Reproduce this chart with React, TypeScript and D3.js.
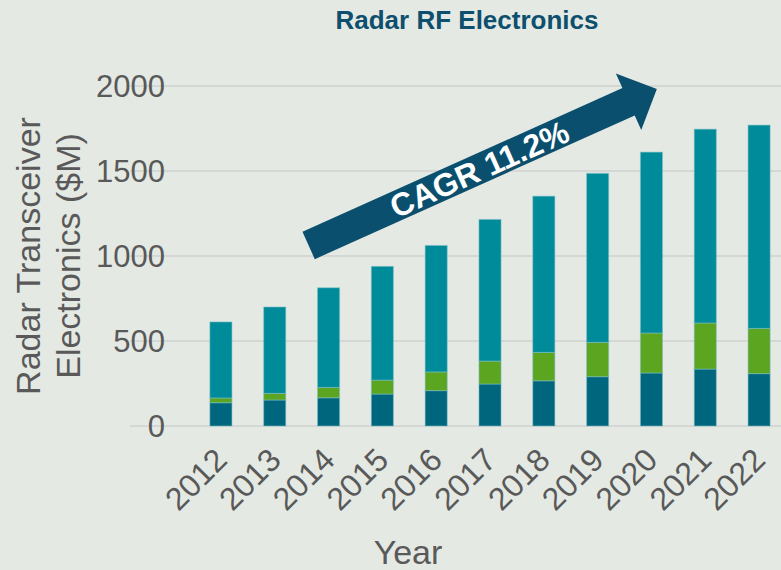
import React from "react";
import * as d3 from "d3";

const years = ["2012","2013","2014","2015","2016","2017","2018","2019","2020","2021","2022"];
const bottomSeries = [137,153,166,188,208,247,266,290,312,335,308];
const middleSeries = [28,39,61,82,110,135,167,202,235,271,266];
const topSeries = [447,508,586,669,744,833,919,994,1064,1140,1196];
const yTicks = [0,500,1000,1500,2000];
const seriesColors = ["#00667e","#5ba521","#008b9b"];
const cagrLabel = "CAGR 11.2%";
// arrow annotation in data space: index offset along categories, value on y
const arrowStart = { idx: 1.63, value: 1062 };
const arrowEnd = { idx: 8.1, value: 1982 };

const W = 781, H = 570;
const FONT = "'Liberation Sans', Arial, Helvetica, sans-serif";

export default function App() {
  const x = d3.scaleBand<string>().domain(years).range([194, 786]).paddingInner(0.59).paddingOuter(0.295);
  const y = d3.scaleLinear().domain([0, 2000]).range([426, 86]);
  const step = x.step();
  const bw = x.bandwidth();
  const cx0 = (x(years[0]) as number) + bw / 2;

  const rows = years.map((yr, i) => ({ yr, a: bottomSeries[i], b: middleSeries[i], c: topSeries[i] }));
  const stack = d3.stack<any>().keys(["a","b","c"])(rows);

  // arrow geometry from scales
  const sx = cx0 + arrowStart.idx * step, sy = y(arrowStart.value);
  const ex = cx0 + arrowEnd.idx * step, ey = y(arrowEnd.value);
  const ang = Math.atan2(ey - sy, ex - sx);
  const len = Math.hypot(ex - sx, ey - sy);
  const shaftHalf = 15, headHalf = 31, headLen = 31;
  const pts: [number, number][] = [
    [0, -shaftHalf], [len - headLen, -shaftHalf], [len - headLen, -headHalf], [len, 0],
    [len - headLen, headHalf], [len - headLen, shaftHalf], [0, shaftHalf],
  ];
  const deg = (ang * 180) / Math.PI;
  const tpos = len * 0.49;

  return (
    <svg width={W} height={H} style={{ position: "absolute", left: 0, top: 0 }} fontFamily={FONT}>
      <rect x={0} y={0} width={W} height={H} fill="#e4e9e4" />
      <text x={467} y={29} textAnchor="middle" fontSize={26} fontWeight="bold" fill="#0e4f6d">Radar RF Electronics</text>

      {yTicks.map((t) => (
        <g key={t}>
          <line x1={130} x2={W} y1={y(t)} y2={y(t)} stroke="#d5d7d5" strokeWidth={2} />
          <text x={165} y={y(t)} dy="0.36em" textAnchor="end" fontSize={31} fill="#595959">{t}</text>
        </g>
      ))}

      {stack.map((s, si) => (
        <g key={si} fill={seriesColors[si]}>
          {s.map((d: any, i: number) => (
            <rect key={i} x={x(years[i])} y={y(d[1])} width={bw} height={y(d[0]) - y(d[1])}
              stroke="#7cc0c6" strokeOpacity={0.55} strokeWidth={1} />
          ))}
        </g>
      ))}

      {years.map((yr) => (
        <text key={yr} transform={`translate(${(x(yr) as number) + bw / 2 + 8},${462}) rotate(-45)`}
          textAnchor="end" fontSize={32} fill="#595959">{yr}</text>
      ))}

      <text x={408} y={564} textAnchor="middle" fontSize={34} fill="#595959">Year</text>
      <text transform={`translate(40,256) rotate(-90)`} textAnchor="middle" fontSize={34} fill="#595959">Radar Transceiver</text>
      <text transform={`translate(80,256) rotate(-90)`} textAnchor="middle" fontSize={34} fill="#595959">Electronics ($M)</text>

      <g transform={`translate(${sx},${sy}) rotate(${deg})`}>
        <polygon points={pts.map((p) => p.join(",")).join(" ")} fill="#0b4f6e" />
        <text x={tpos} y={0} dy="0.36em" textAnchor="middle" fontSize={32} fontWeight="bold" fill="#ffffff">{cagrLabel}</text>
      </g>
    </svg>
  );
}
